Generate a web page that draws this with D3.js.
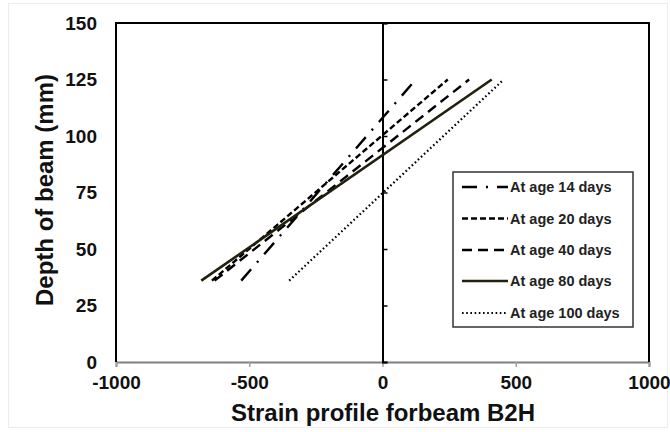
<!DOCTYPE html>
<html>
<head>
<meta charset="utf-8">
<script src="https://cdn.jsdelivr.net/npm/d3@7"></script>
<style>
  html, body { margin: 0; padding: 0; background: #fff; }
  svg { display: block; }
</style>
</head>
<body>
<svg id="chart" width="670" height="432"></svg>
<script>
// ---- data ----
const seriesNames = ["At age 14 days", "At age 20 days", "At age 40 days", "At age 80 days", "At age 100 days"];
const depths = [36, 125];
const strain14 = [-530, 125];
const strain20 = [-640, 245];
const strain40 = [-630, 325];
const strain80 = [-680, 410];
const strain100 = [-350, 455];
const xTicks = [-1000, -500, 0, 500, 1000];
const yTicks = [0, 25, 50, 75, 100, 125, 150];

const series = [strain14, strain20, strain40, strain80, strain100].map((s, i) => ({
  name: seriesNames[i],
  pts: s.map((v, j) => ({ x: v, y: depths[j] }))
}));
const styles = [
  { dash: "15,9,2,9", color: "#000", w: 2.4 },
  { dash: "6,3", color: "#000", w: 2.4 },
  { dash: "10,6", color: "#000", w: 2.4 },
  { dash: null, color: "#221f0b", w: 2.6 },
  { dash: "1.6,2.6", color: "#000", w: 2.2 }
];

const svg = d3.select("#chart");
const L = 116, R = 649, T = 23, B = 362;
const x = d3.scaleLinear().domain([-1000, 1000]).range([L, R]);
const y = d3.scaleLinear().domain([0, 150]).range([B, T]);

// faint outer frame
svg.append("rect").attr("x", 8.5).attr("y", 3.5).attr("width", 659).attr("height", 424)
  .attr("fill", "none").attr("stroke", "#ececec").attr("stroke-width", 1);

// x axis (bottom)
const xAxis = svg.append("g").attr("transform", `translate(0,${B})`)
  .call(d3.axisBottom(x).tickValues(xTicks).tickSize(5).tickPadding(9).tickFormat(d => String(d)));
xAxis.select(".domain").attr("stroke", "#808080").attr("stroke-width", 2);
xAxis.selectAll(".tick line").attr("stroke", "#a0a0a0").attr("stroke-width", 1.5);
xAxis.selectAll("text").attr("font-family", "Liberation Sans, Arial, sans-serif")
  .attr("font-weight", "bold").attr("font-size", 19).attr("fill", "#111");

// plot frame left/top/right
svg.append("path")
  .attr("d", `M${L},${B}V${T}H${R}V${B}`)
  .attr("fill", "none").attr("stroke", "#000").attr("stroke-width", 2);

// y labels (left)
const yLab = svg.append("g").attr("transform", `translate(${L},0)`)
  .call(d3.axisLeft(y).tickValues(yTicks).tickSize(0).tickPadding(19).tickFormat(d => String(d)));
yLab.select(".domain").remove();
yLab.selectAll("text").attr("font-family", "Liberation Sans, Arial, sans-serif")
  .attr("font-weight", "bold").attr("font-size", 19).attr("fill", "#111");

// y axis line at x = 0 with ticks
const yAx = svg.append("g").attr("transform", `translate(${x(0)},0)`)
  .call(d3.axisRight(y).tickValues(yTicks).tickSize(5).tickFormat(""));
yAx.select(".domain").attr("stroke", "#000").attr("stroke-width", 2);
yAx.selectAll(".tick line").attr("stroke", "#000").attr("stroke-width", 1.5);

// lines
const line = d3.line().x(d => x(d.x)).y(d => y(d.y));
series.forEach((s, i) => {
  svg.append("path").datum(s.pts).attr("d", line)
    .attr("fill", "none").attr("stroke", styles[i].color)
    .attr("stroke-width", styles[i].w)
    .attr("stroke-dasharray", styles[i].dash);
});

// legend
const lg = svg.append("g");
lg.append("rect").attr("x", 453).attr("y", 172).attr("width", 180).attr("height", 155)
  .attr("fill", "#fff").attr("stroke", "#333").attr("stroke-width", 1.5);
const rowY = [187, 218.5, 250, 281, 313];
series.forEach((s, i) => {
  lg.append("line").attr("x1", 462).attr("x2", 508).attr("y1", rowY[i]).attr("y2", rowY[i])
    .attr("stroke", styles[i].color).attr("stroke-width", styles[i].w)
    .attr("stroke-dasharray", styles[i].dash);
  lg.append("text").attr("x", 510).attr("y", rowY[i]).attr("dy", "0.35em")
    .attr("font-family", "Liberation Sans, Arial, sans-serif").attr("font-weight", "bold")
    .attr("font-size", 14.5).attr("fill", "#222").text(s.name);
});

// axis titles
svg.append("text").attr("x", 383).attr("y", 421).attr("text-anchor", "middle")
  .attr("font-family", "Liberation Sans, Arial, sans-serif").attr("font-weight", "bold")
  .attr("font-size", 24).attr("fill", "#111").text("Strain profile forbeam B2H");
svg.append("text").attr("transform", "translate(53,190) rotate(-90)").attr("text-anchor", "middle")
  .attr("font-family", "Liberation Sans, Arial, sans-serif").attr("font-weight", "bold")
  .attr("font-size", 24).attr("fill", "#111").text("Depth of beam (mm)");
</script>
</body>
</html>
